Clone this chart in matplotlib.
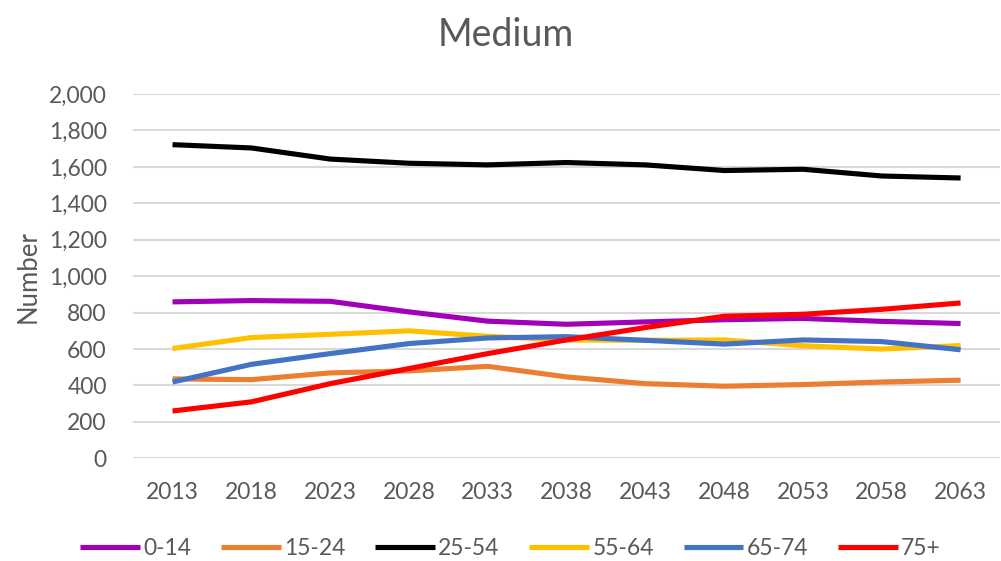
import matplotlib
matplotlib.use("Agg")
import matplotlib.pyplot as plt
import matplotlib.ticker as ticker

years = ['2013', '2018', '2023', '2028', '2033', '2038', '2043', '2048', '2053', '2058', '2063']

age_0_14 = [859, 866, 862, 804, 753, 736, 749, 761, 768, 752, 740]
age_15_24 = [436, 432, 469, 480, 505, 447, 410, 396, 405, 419, 429]
age_25_54 = [1722, 1704, 1643, 1620, 1611, 1624, 1611, 1580, 1587, 1550, 1539]
age_55_64 = [603, 663, 681, 700, 670, 650, 648, 650, 618, 600, 619]
age_65_74 = [419, 516, 575, 630, 661, 668, 648, 627, 650, 641, 596]
age_75_plus = [260, 310, 410, 493, 575, 650, 718, 780, 791, 818, 853]

series = [
    ('0-14', age_0_14, '#A100B8'),
    ('15-24', age_15_24, '#ED7D31'),
    ('25-54', age_25_54, '#000000'),
    ('55-64', age_55_64, '#FFC000'),
    ('65-74', age_65_74, '#4472C4'),
    ('75+', age_75_plus, '#FF0000'),
]

grey = '#595959'
plt.rcParams['font.family'] = ['Lato', 'DejaVu Sans']

fig = plt.figure(figsize=(10.01, 5.61), dpi=100)
ax = fig.add_axes([0.133, 0.183, 0.866, 0.6494])

x = range(len(years))
for name, vals, col in series:
    ax.plot(x, vals, color=col, lw=3.7, label=name, solid_capstyle='butt',
            solid_joinstyle='round')

ax.set_xlim(-0.5, len(years) - 0.5)
ax.set_ylim(0, 2000)
ax.set_xticks(list(x))
ax.set_xticklabels(years)
ax.yaxis.set_major_locator(ticker.MultipleLocator(200))
ax.yaxis.set_major_formatter(ticker.StrMethodFormatter('{x:,.0f}'))

ax.grid(axis='y', color='#D9D9D9', lw=1.5)
ax.set_axisbelow(True)
for s in ax.spines.values():
    s.set_visible(False)
ax.tick_params(length=0, labelsize=16.5, labelcolor=grey)
ax.tick_params(axis='x', pad=17)
ax.tick_params(axis='y', pad=19)

ax.set_ylabel('Number', fontsize=18.5, color=grey, labelpad=6)
fig.text(0.505, 0.938, 'Medium', ha='center', va='center', fontsize=27, color=grey)

fig.legend(loc='center', bbox_to_anchor=(0.51, 0.023), ncol=6, frameon=False,
           fontsize=16.5, labelcolor=grey, handlelength=2.6, handletextpad=0.15,
           columnspacing=1.3)

fig.savefig('out.png', dpi=100)
